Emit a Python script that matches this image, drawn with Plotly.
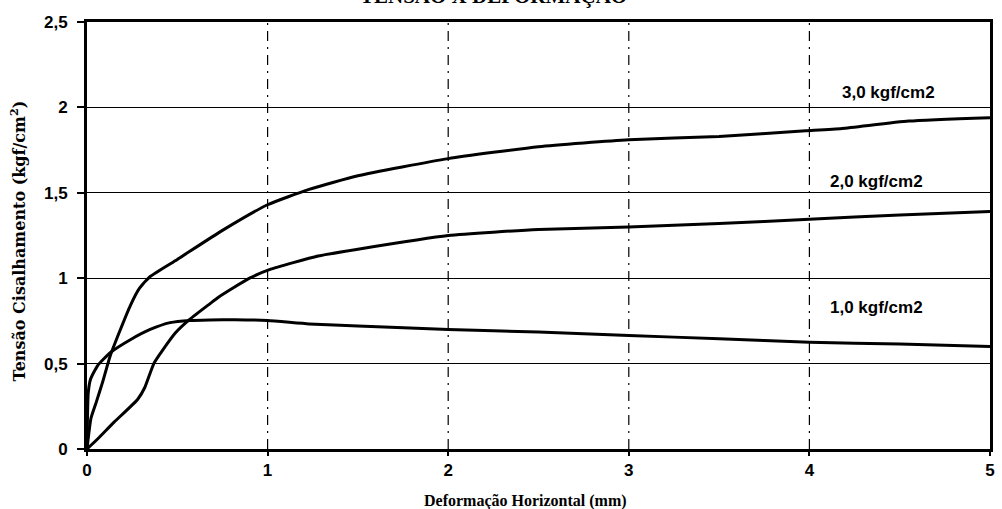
import plotly.graph_objects as go

# Horizontal deformation (mm) and shear stress (kgf/cm2) for each normal stress
x_30 = [0, 0.022, 0.05, 0.086, 0.13, 0.185, 0.24, 0.29, 0.35, 0.50, 0.75, 1.0, 1.23,
        1.5, 2.0, 2.5, 3.0, 3.5, 3.98, 4.18, 4.55, 5.0]
y_30 = [0, 0.18, 0.27, 0.39, 0.55, 0.70, 0.84, 0.94, 1.01, 1.11, 1.28, 1.43, 1.52,
        1.60, 1.70, 1.77, 1.81, 1.83, 1.863, 1.877, 1.92, 1.94]

x_20 = [0, 0.06, 0.15, 0.28, 0.32, 0.37, 0.42, 0.49, 0.57, 0.68, 0.73, 0.90, 1.01, 1.28,
        1.5, 2.0, 2.5, 3.0, 3.5, 4.0, 4.5, 5.0]
y_20 = [0, 0.06, 0.157, 0.29, 0.36, 0.50, 0.58, 0.68, 0.76, 0.85, 0.89, 1.0, 1.05, 1.13,
        1.17, 1.25, 1.285, 1.30, 1.32, 1.345, 1.37, 1.39]

x_10 = [0, 0.007, 0.02, 0.06, 0.13, 0.24, 0.35, 0.46, 0.57, 0.68, 0.82, 1.0, 1.23,
        1.5, 2.0, 2.5, 3.0, 3.5, 4.0, 4.5, 5.0]
y_10 = [0, 0.33, 0.41, 0.49, 0.565, 0.64, 0.70, 0.74, 0.753, 0.756, 0.757, 0.752, 0.732,
        0.72, 0.70, 0.685, 0.665, 0.645, 0.625, 0.615, 0.60]

series_names = ["3,0 kgf/cm2", "2,0 kgf/cm2", "1,0 kgf/cm2"]
label_x = [4.44, 4.37, 4.37]
label_y = [2.09, 1.565, 0.83]

x_ticks = [0, 1, 2, 3, 4, 5]
x_ticktext = ["0", "1", "2", "3", "4", "5"]
y_ticks = [0, 0.5, 1, 1.5, 2, 2.5]
y_ticktext = ["0", "0,5", "1", "1,5", "2", "2,5"]

fig = go.Figure()

for xs, ys, name in zip([x_30, x_20, x_10], [y_30, y_20, y_10], series_names):
    fig.add_trace(go.Scatter(
        x=xs, y=ys, mode="lines", name=name,
        line=dict(color="black", width=3, shape="spline", smoothing=0.5),
        showlegend=False,
    ))

sans = "Liberation Sans, Arial, sans-serif"

# Curve labels
for name, lx, ly in zip(series_names, label_x, label_y):
    fig.add_annotation(
        x=lx, y=ly, xref="x", yref="y", text=f"<b>{name}</b>", showarrow=False,
        font=dict(family=sans, size=17, color="black"),
    )

# Vertical dash-dot gridlines
for xv in x_ticks[1:-1]:
    fig.add_shape(type="line", xref="x", yref="paper", x0=xv, x1=xv, y0=0, y1=1,
                  line=dict(color="black", width=1.2, dash="10px,6px,2px,6px"), layer="below")

serif = "Liberation Serif, Times New Roman, serif"

fig.add_annotation(
    text="<b>TENSÃO X DEFORMAÇÃO</b>", xref="paper", yref="paper",
    x=0.450, y=1.028, xanchor="center", yanchor="bottom", showarrow=False,
    font=dict(family=serif, size=21, color="black"),
)
fig.add_annotation(
    text="<b>Deformação Horizontal (mm)</b>", xref="paper", yref="paper",
    x=0.486, y=-0.122, xanchor="center", yanchor="middle", showarrow=False,
    font=dict(family=serif, size=16, color="black"),
)
fig.add_annotation(
    text="<b>Tensão Cisalhamento (kgf/cm<sup>2</sup>)</b>", xref="paper", yref="paper",
    x=-0.076, y=0.487, xanchor="center", yanchor="middle", showarrow=False,
    textangle=-90, font=dict(family="DejaVu Serif, serif", size=16, color="black"),
)

tickfont = dict(family=sans, size=17, color="black", weight="bold")

fig.update_layout(
    width=1002, height=509,
    margin=dict(l=87, r=7, t=22, b=60),
    paper_bgcolor="white", plot_bgcolor="white",
    xaxis=dict(
        range=[0, 5], tickvals=x_ticks, ticktext=x_ticktext,
        showgrid=False, zeroline=False,
        showline=True, linecolor="black", linewidth=3, mirror=True,
        ticks="outside", ticklen=4, tickwidth=1.5, tickcolor="black",
        tickfont=tickfont,
    ),
    yaxis=dict(
        range=[0, 2.5], tickvals=y_ticks, ticktext=y_ticktext,
        showgrid=True, gridcolor="black", gridwidth=1, zeroline=False,
        showline=True, linecolor="black", linewidth=3, mirror=True,
        ticks="outside", ticklen=7, tickwidth=1.5, tickcolor="black",
        ticklabelstandoff=6, tickfont=tickfont,
    ),
)

fig.write_html("out.html")
